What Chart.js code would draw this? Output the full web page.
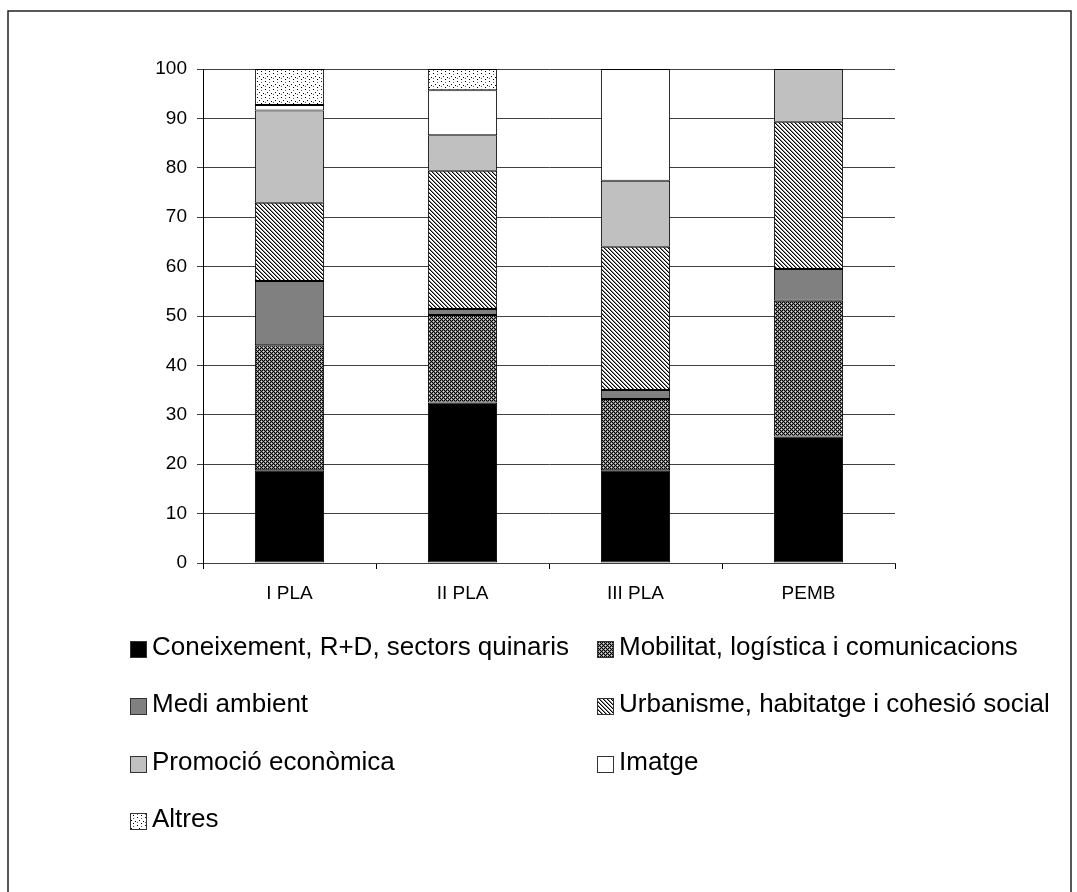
<!DOCTYPE html>
<html>
<head>
<meta charset="utf-8">
<script src="https://cdn.jsdelivr.net/npm/chart.js@4/dist/chart.umd.min.js"></script>
<style>
html,body{margin:0;padding:0;background:#fff;}
#wrap{position:absolute;left:0;top:0;width:1077px;height:892px;}
</style>
</head>
<body>
<div id="wrap"><canvas id="c" width="1077" height="892"></canvas></div>
<script>
const categories = ['I PLA', 'II PLA', 'III PLA', 'PEMB'];
const seriesNames = [
  'Coneixement, R+D, sectors quinaris',
  'Mobilitat, logística i comunicacions',
  'Medi ambient',
  'Urbanisme, habitatge i cohesió social',
  'Promoció econòmica',
  'Imatge',
  'Altres'
];
const coneixement = [18.8, 32.5, 18.8, 25.6];
const mobilitat   = [25.3, 17.7, 14.4, 27.5];
const mediAmbient = [13.0, 1.2, 1.8, 6.4];
const urbanisme   = [15.8, 28.0, 29.0, 29.8];
const promocio    = [18.7, 7.2, 13.4, 10.7];
const imatge      = [1.1, 9.1, 22.6, 0];
const altres      = [7.3, 4.3, 0, 0];
const yTicks = [0, 10, 20, 30, 40, 50, 60, 70, 80, 90, 100];

function makePattern(size, draw) {
  const c = document.createElement('canvas');
  c.width = size; c.height = size;
  const g = c.getContext('2d');
  draw(g);
  return document.getElementById('c').getContext('2d').createPattern(c, 'repeat');
}
function px(g, x, y, col) { g.fillStyle = col; g.fillRect(x, y, 1, 1); }

const patMobilitat = makePattern(4, g => {
  const K = '#000', G = '#808080', W = '#e0e0e0';
  const m = [
    [K, G, K, G],
    [G, W, G, K],
    [K, G, K, G],
    [G, K, G, W]
  ];
  for (let y = 0; y < 4; y++) for (let x = 0; x < 4; x++) px(g, x, y, m[y][x]);
});
const patUrbanisme = makePattern(4, g => {
  for (let y = 0; y < 4; y++) for (let x = 0; x < 4; x++) {
    const d = ((x - y) % 4 + 4) % 4;
    px(g, x, y, d === 0 ? '#000' : (d === 1 ? '#8a8a8a' : '#fff'));
  }
});
const patAltres = makePattern(8, g => {
  g.fillStyle = '#fff'; g.fillRect(0, 0, 8, 8);
  px(g, 1, 1, '#000'); px(g, 5, 2, '#555'); px(g, 3, 4, '#000');
  px(g, 7, 5, '#000'); px(g, 1, 6, '#666'); px(g, 5, 7, '#000');
});

const fills = ['#000000', patMobilitat, '#808080', patUrbanisme, '#c0c0c0', '#ffffff', patAltres];
const values = [coneixement, mobilitat, mediAmbient, urbanisme, promocio, imatge, altres];

const datasets = seriesNames.map((name, i) => ({
  label: name,
  data: values[i],
  backgroundColor: fills[i],
  borderColor: '#000',
  borderWidth: 1,
  borderSkipped: false,
  categoryPercentage: 1.0,
  barPercentage: 0.4
}));

const FONT = "'Liberation Sans', Arial, sans-serif";

const legendPlugin = {
  id: 'customLegend',
  beforeDraw(chart) {
    const ctx = chart.ctx;
    ctx.save();
    ctx.strokeStyle = '#222';
    ctx.lineWidth = 1.5;
    ctx.strokeRect(8, 11, 1063, 1000);
    ctx.restore();
  },
  afterDraw(chart) {
    const ctx = chart.ctx;
    const colX = [130, 597];
    const rowY = [649, 706, 764, 821];
    ctx.save();
    ctx.font = '26px ' + FONT;
    ctx.textBaseline = 'alphabetic';
    ctx.fillStyle = '#000';
    chart.data.datasets.forEach((ds, i) => {
      const x = colX[i % 2];
      const cy = rowY[Math.floor(i / 2)];
      ctx.fillStyle = ds.backgroundColor;
      ctx.fillRect(x, cy - 8, 16, 16);
      ctx.strokeStyle = '#333';
      ctx.lineWidth = 1;
      ctx.strokeRect(x + 0.5, cy - 7.5, 16, 16);
      ctx.fillStyle = '#000';
      ctx.fillText(ds.label, x + 22, cy + 6);
    });
    ctx.restore();
  }
};

new Chart(document.getElementById('c'), {
  type: 'bar',
  data: { labels: categories, datasets },
  options: {
    responsive: false,
    animation: false,
    devicePixelRatio: 1,
    layout: { padding: { left: 0, top: 69, right: 182, bottom: 0 } },
    plugins: { legend: { display: false }, tooltip: { enabled: false } },
    scales: {
      x: {
        stacked: true,
        grid: { display: true, drawOnChartArea: false, drawTicks: true, tickLength: 6, color: '#000', offset: true },
        border: { display: true, color: '#404040', width: 1 },
        ticks: { color: '#000', font: { family: FONT, size: 19 }, padding: 13 },
        afterFit(scale) { scale.height = 329; }
      },
      y: {
        stacked: true,
        min: 0, max: 100,
        afterBuildTicks(scale) { scale.ticks = yTicks.map(v => ({ value: v })); },
        grid: { color: '#404040', lineWidth: 1, tickLength: 6, drawTicks: true },
        border: { display: true, color: '#000', width: 1 },
        ticks: { color: '#000', font: { family: FONT, size: 19 }, padding: 10 },
        afterFit(scale) { scale.width = 203; }
      }
    }
  },
  plugins: [legendPlugin]
});
</script>
</body>
</html>
